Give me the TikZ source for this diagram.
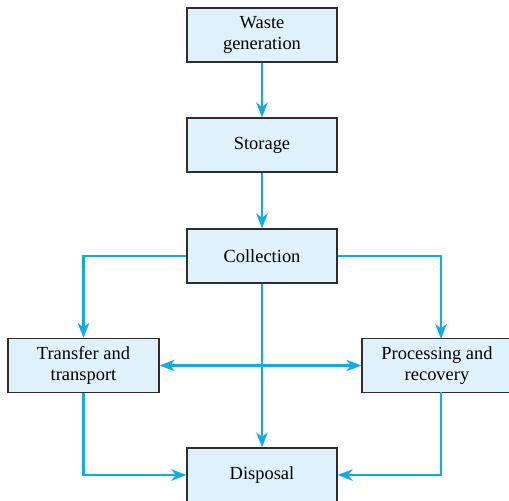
\documentclass[tikz,border=0pt]{standalone}
\usepackage{fontspec}
\setmainfont{Liberation Serif}
\usetikzlibrary{arrows.meta}
\definecolor{boxfill}{RGB}{223,241,251}
\definecolor{flowblue}{RGB}{16,172,232}
\definecolor{boxline}{RGB}{45,45,45}
\tikzset{
  stage/.style={draw=boxline, line width=0.7pt, fill=boxfill, minimum width=3cm,
    minimum height=1.08cm, inner sep=0pt, align=center,
    font=\fontsize{10.5}{12}\selectfont},
  flow/.style={draw=flowblue, line width=1.3pt, -{Stealth[length=8.5pt,width=6.5pt,inset=2.5pt]}},
  twoway/.style={draw=flowblue, line width=1.3pt,
    {Stealth[length=8.5pt,width=6.5pt,inset=2.5pt]}-{Stealth[length=8.5pt,width=6.5pt,inset=2.5pt]}}
}
\begin{document}
\begin{tikzpicture}[x=0.02cm, y=-0.02cm]
\useasboundingbox (0,0) rectangle (509,500);
\clip (0,0) rectangle (509,500);

\node[stage] (waste) at (262,35) {Waste\\generation};
\node[stage] (store) at (262,145) {Storage};
\node[stage] (coll) at (262,256) {Collection};
\node[stage, minimum width=3.02cm] (trans) at (83.5,365.5) {Transfer and\\transport};
\node[stage] (proc) at (437,365.5) {Processing and\\recovery};
\node[stage] (disp) at (262,475) {Disposal};

\coordinate (procin) at (441,339);
\coordinate (procout) at (441,392);

\draw[flow] (waste) -- (store);
\draw[flow] (store) -- (coll);
\draw[flow] (coll.west) -| (trans.north);
\draw[flow] (coll.east) -| (procin);
\draw[twoway] (trans.east) -- (proc.west);
\draw[flow] (coll) -- (disp);
\draw[flow] (trans.south) |- (disp.west);
\draw[flow] (procout) |- (disp.east);
\end{tikzpicture}
\end{document}
